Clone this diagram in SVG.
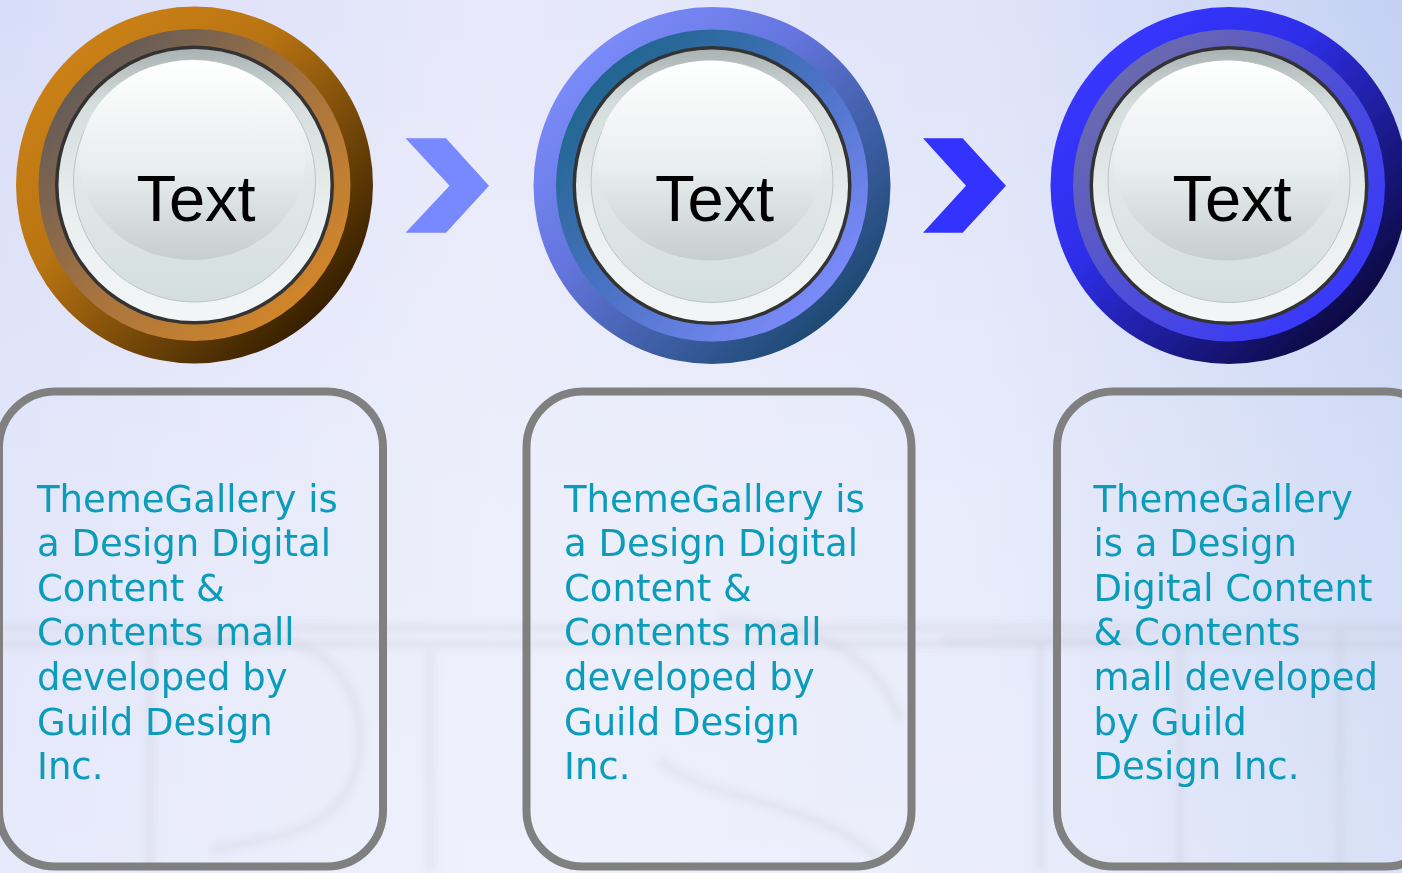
<svg xmlns="http://www.w3.org/2000/svg" width="1402" height="873" viewBox="0 0 1402 873">
  <defs>
    <!-- backdrop -->
    <linearGradient id="bg" x1="0" y1="0" x2="1" y2="0">
      <stop offset="0" stop-color="#D9DEF8"/>
      <stop offset="0.35" stop-color="#E7E9FA"/>
      <stop offset="0.7" stop-color="#E0E4F9"/>
      <stop offset="1" stop-color="#C4D1F3"/>
    </linearGradient>
    <linearGradient id="bgHaze" x1="0" y1="0" x2="0" y2="1">
      <stop offset="0" stop-color="#FFFFFF" stop-opacity="0"/>
      <stop offset="0.55" stop-color="#FFFFFF" stop-opacity="0.25"/>
      <stop offset="1" stop-color="#FFFFFF" stop-opacity="0.35"/>
    </linearGradient>
    <filter id="soft" x="-10%" y="-10%" width="120%" height="120%">
      <feGaussianBlur stdDeviation="3"/>
    </filter>

    <!-- ring gradients: amber -->
    <linearGradient id="amberOuter" x1="0.15" y1="0.15" x2="0.85" y2="0.85">
      <stop offset="0" stop-color="#CA8016"/>
      <stop offset="0.35" stop-color="#B87412"/>
      <stop offset="1" stop-color="#382000"/>
    </linearGradient>
    <linearGradient id="amberInner" x1="0.15" y1="0.15" x2="0.85" y2="0.85">
      <stop offset="0" stop-color="#655C58"/>
      <stop offset="0.55" stop-color="#A9743E"/>
      <stop offset="1" stop-color="#D0852A"/>
    </linearGradient>
    <!-- ring gradients: steel blue -->
    <linearGradient id="steelOuter" x1="0.15" y1="0.15" x2="0.85" y2="0.85">
      <stop offset="0" stop-color="#7A8AF8"/>
      <stop offset="0.35" stop-color="#6676E0"/>
      <stop offset="1" stop-color="#1E4A74"/>
    </linearGradient>
    <linearGradient id="steelInner" x1="0.15" y1="0.15" x2="0.85" y2="0.85">
      <stop offset="0" stop-color="#216690"/>
      <stop offset="0.5" stop-color="#4A72C4"/>
      <stop offset="1" stop-color="#7A8AF8"/>
    </linearGradient>
    <!-- ring gradients: royal blue -->
    <linearGradient id="royalOuter" x1="0.15" y1="0.15" x2="0.85" y2="0.85">
      <stop offset="0" stop-color="#3636FF"/>
      <stop offset="0.35" stop-color="#2E2EE8"/>
      <stop offset="1" stop-color="#0C0A44"/>
    </linearGradient>
    <linearGradient id="royalInner" x1="0.15" y1="0.15" x2="0.85" y2="0.85">
      <stop offset="0" stop-color="#6A6AAE"/>
      <stop offset="0.5" stop-color="#4E4ED8"/>
      <stop offset="1" stop-color="#3838FA"/>
    </linearGradient>

    <!-- button face -->
    <linearGradient id="rim" x1="0" y1="0" x2="0" y2="1">
      <stop offset="0" stop-color="#AAB3B3"/>
      <stop offset="0.2" stop-color="#D6DDDD"/>
      <stop offset="0.6" stop-color="#E9EEEE"/>
      <stop offset="1" stop-color="#F3F6F6"/>
    </linearGradient>
    <linearGradient id="face" x1="0" y1="0" x2="0" y2="1">
      <stop offset="0" stop-color="#FFFFFF"/>
      <stop offset="0.5" stop-color="#E2E8E8"/>
      <stop offset="1" stop-color="#D4DEDE"/>
    </linearGradient>
    <linearGradient id="gloss" x1="0" y1="0" x2="0" y2="1">
      <stop offset="0" stop-color="#FFFFFF"/>
      <stop offset="0.55" stop-color="#E8EDED"/>
      <stop offset="1" stop-color="#C6CECE"/>
    </linearGradient>

    <g id="button">
      <circle r="139.5" fill="#333333"/>
      <circle r="136" fill="url(#rim)"/>
      <circle cx="0" cy="-4" r="121" fill="url(#face)" stroke="#BCC4C4" stroke-width="1"/>
      <ellipse cx="-2" cy="-25" rx="113" ry="100" fill="url(#gloss)"/>
    </g>
  </defs>

  <style>
    .label { font-family: "Liberation Sans", Arial, sans-serif; font-size: 65px; fill: #000000; text-anchor: middle; }
    .card { fill: none; stroke: #808080; stroke-width: 8; }
    .body { font-family: "DejaVu Sans", Verdana, sans-serif; font-size: 37px; fill: #0C9CBB; }
    .wm { fill: none; stroke: #B8BCC8; stroke-width: 10; opacity: 0.16; }
  </style>

  <!-- backdrop -->
  <rect x="0" y="0" width="1402" height="873" fill="url(#bg)"/>
  <rect x="0" y="0" width="1402" height="873" fill="url(#bgHaze)"/>
  <g id="watermark" filter="url(#soft)">
    <rect class="wm" x="-10" y="628" width="1430" height="16" stroke-width="4"/>
    <path class="wm" d="M150 640 V870 M150 640 H260 C340 640 360 700 360 740 C360 800 320 830 260 840 L210 850"/>
    <path class="wm" d="M430 650 V870"/>
    <path class="wm" d="M720 620 C820 620 880 660 900 720 M660 760 C700 800 820 800 880 860"/>
    <path class="wm" d="M940 640 H1130 M1040 640 V870"/>
    <path class="wm" d="M1180 630 V870 M1340 630 V870"/>
  </g>

  <!-- step circles -->
  <g id="step1">
    <circle cx="194.5" cy="185" r="178.5" fill="url(#amberOuter)"/>
    <circle cx="194.5" cy="185" r="156" fill="url(#amberInner)"/>
    <use href="#button" x="194.5" y="185"/>
    <text class="label" x="196" y="221">Text</text>
  </g>
  <g id="step2">
    <circle cx="712" cy="185.5" r="178.5" fill="url(#steelOuter)"/>
    <circle cx="712" cy="185.5" r="156" fill="url(#steelInner)"/>
    <use href="#button" x="712" y="185.5"/>
    <text class="label" x="714.5" y="221">Text</text>
  </g>
  <g id="step3">
    <circle cx="1229" cy="185.5" r="178.5" fill="url(#royalOuter)"/>
    <circle cx="1229" cy="185.5" r="156" fill="url(#royalInner)"/>
    <use href="#button" x="1229" y="185.5"/>
    <text class="label" x="1232" y="221">Text</text>
  </g>

  <!-- chevron connectors -->
  <g id="connectors">
    <polygon points="405.5,138.3 446,138.3 489,185.7 446,232.7 405.5,232.7 449.6,185.7" fill="#7888FF"/>
    <polygon points="923,138.3 962.6,138.3 1006,185.7 962.6,232.7 923,232.7 966,185.7" fill="#3333FF"/>
  </g>

  <!-- description cards -->
  <g id="card1">
    <rect class="card" x="-1" y="391.5" width="384" height="475" rx="56" ry="56"/>
    <text class="body" x="37" y="511.5">
      <tspan x="37">ThemeGallery is</tspan>
      <tspan x="37" dy="44.6">a Design Digital</tspan>
      <tspan x="37" dy="44.6">Content &amp;</tspan>
      <tspan x="37" dy="44.6">Contents mall</tspan>
      <tspan x="37" dy="44.6">developed by</tspan>
      <tspan x="37" dy="44.6">Guild Design</tspan>
      <tspan x="37" dy="44.6">Inc.</tspan>
    </text>
  </g>
  <g id="card2">
    <rect class="card" x="526.5" y="391.5" width="385" height="475" rx="56" ry="56"/>
    <text class="body" x="564" y="511.5">
      <tspan x="564">ThemeGallery is</tspan>
      <tspan x="564" dy="44.6">a Design Digital</tspan>
      <tspan x="564" dy="44.6">Content &amp;</tspan>
      <tspan x="564" dy="44.6">Contents mall</tspan>
      <tspan x="564" dy="44.6">developed by</tspan>
      <tspan x="564" dy="44.6">Guild Design</tspan>
      <tspan x="564" dy="44.6">Inc.</tspan>
    </text>
  </g>
  <g id="card3">
    <rect class="card" x="1057" y="391.5" width="385" height="475" rx="56" ry="56"/>
    <text class="body" x="1093.5" y="511.5">
      <tspan x="1093.5">ThemeGallery</tspan>
      <tspan x="1093.5" dy="44.6">is a Design</tspan>
      <tspan x="1093.5" dy="44.6">Digital Content</tspan>
      <tspan x="1093.5" dy="44.6">&amp; Contents</tspan>
      <tspan x="1093.5" dy="44.6">mall developed</tspan>
      <tspan x="1093.5" dy="44.6">by Guild</tspan>
      <tspan x="1093.5" dy="44.6">Design Inc.</tspan>
    </text>
  </g>
</svg>
